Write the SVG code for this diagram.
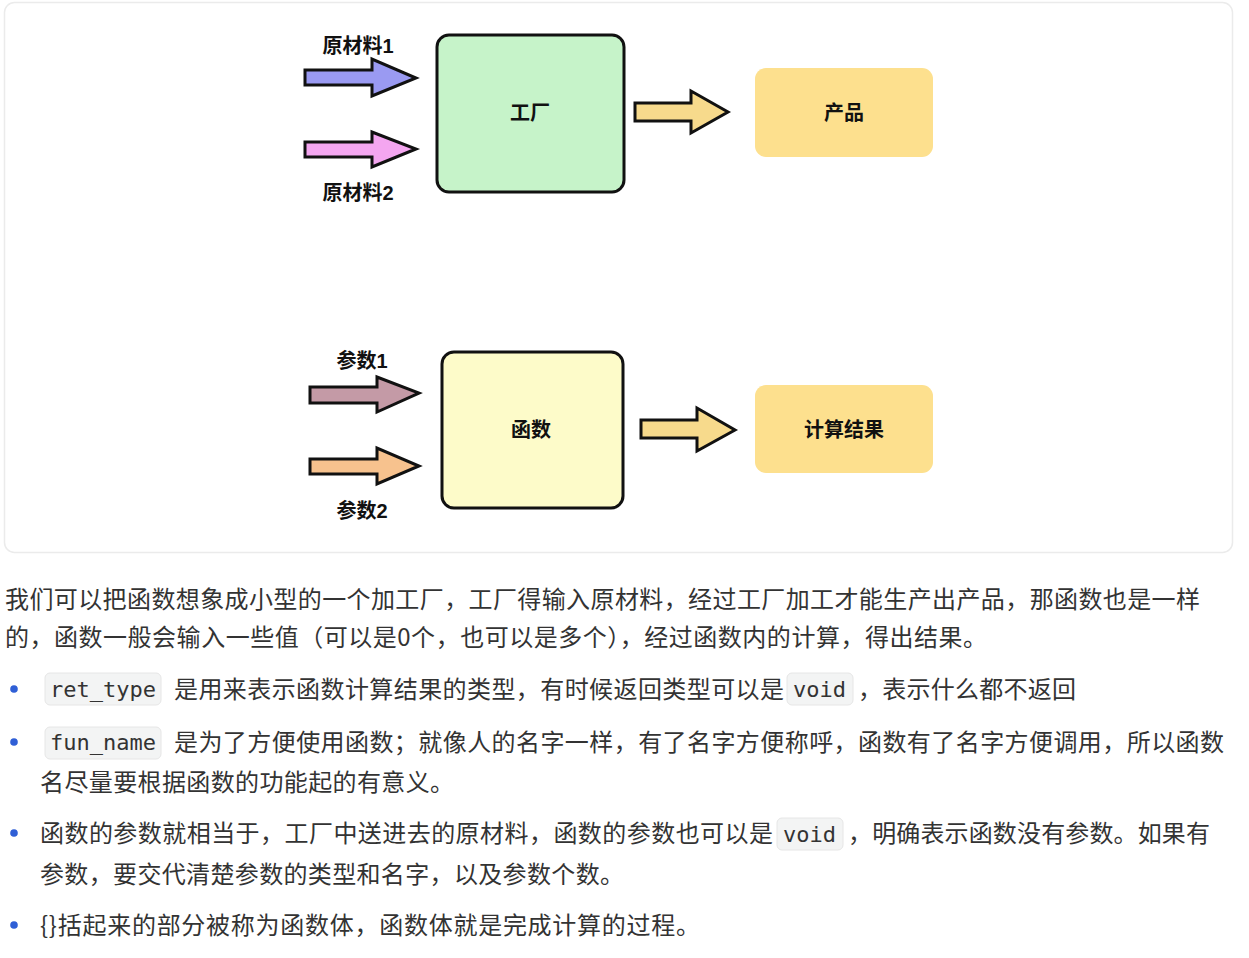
<svg xmlns="http://www.w3.org/2000/svg" width="1249" height="958" viewBox="0 0 1249 958">
<style>
.lbl{font-family:"Liberation Sans","Noto Sans CJK SC",sans-serif;font-weight:bold;font-size:20px;fill:#111;text-anchor:middle;dominant-baseline:central}
.arr{stroke:#111;stroke-width:3;stroke-linejoin:miter}
.box{stroke:#111;stroke-width:3}
.p{font-family:"Noto Sans CJK SC","Noto Sans",sans-serif;font-size:24px;fill:#333}
.code{font-family:"DejaVu Sans Mono","Liberation Mono",monospace;font-size:22px;fill:#333}
.cbg{fill:#f3f4f4;stroke:#e6e6e6;stroke-width:1}
.dot{fill:#2f5fd6}
</style>
<rect x="4.5" y="2.5" width="1228" height="550" rx="10" fill="#fff" stroke="#ebebeb" stroke-width="1.5"/>

<g id="connectors">
<polygon class="arr" fill="#9a9af2" points="305,70 372,70 372,59 416,78 372,96 372,85 305,85"/>
<polygon class="arr" fill="#f4a6f0" points="305,142 372,142 372,132 416,149 372,167 372,157 305,157"/>
<polygon class="arr" fill="#f7da8c" points="635,103 691,103 691,91 728,112 691,133 691,121 635,121"/>
<polygon class="arr" fill="#c49aa6" points="310,387 377,387 377,377 419,393 377,412 377,403 310,403"/>
<polygon class="arr" fill="#f7c28e" points="310,459 377,459 377,448 419,466 377,484 377,474 310,474"/>
<polygon class="arr" fill="#f7da8c" points="641,420 697,420 697,408 735,430 697,451 697,438 641,438"/>
</g>

<g id="label-yuancailiao1"><text class="lbl" x="358" y="46">原材料1</text></g>
<g id="label-yuancailiao2"><text class="lbl" x="358" y="193">原材料2</text></g>
<g id="node-factory">
<rect class="box" x="437" y="35" width="187" height="157" rx="12" fill="#c6f3c9"/>
<text class="lbl" x="530" y="113">工厂</text>
</g>
<g id="node-product">
<rect x="755" y="68" width="178" height="89" rx="11" fill="#fde08e"/>
<text class="lbl" x="844" y="113">产品</text>
</g>

<g id="label-canshu1"><text class="lbl" x="362" y="361">参数1</text></g>
<g id="label-canshu2"><text class="lbl" x="362" y="511">参数2</text></g>
<g id="node-function">
<rect class="box" x="442" y="352" width="181" height="156" rx="12" fill="#fdfbc9"/>
<text class="lbl" x="531" y="430">函数</text>
</g>
<g id="node-result">
<rect x="755" y="385" width="178" height="88" rx="11" fill="#fde08e"/>
<text class="lbl" x="844" y="430">计算结果</text>
</g>

<g id="text">
<text class="p" x="5" y="608" textLength="1195" lengthAdjust="spacing">我们可以把函数想象成小型的一个加工厂，工厂得输入原材料，经过工厂加工才能生产出产品，那函数也是一样</text>
<text class="p" x="5" y="646" textLength="982" lengthAdjust="spacing">的，函数一般会输入一些值（可以是0个，也可以是多个），经过函数内的计算，得出结果。</text>

<circle class="dot" cx="14" cy="689" r="3.8"/>
<rect class="cbg" x="45" y="673" width="116" height="32" rx="5"/>
<text class="code" x="50" y="697">ret_type</text>
<text class="p" x="174" y="698" textLength="610" lengthAdjust="spacing">是用来表示函数计算结果的类型，有时候返回类型可以是</text>
<rect class="cbg" x="787" y="673" width="66" height="32" rx="5"/>
<text class="code" x="793" y="697">void</text>
<text class="p" x="858" y="698" textLength="218" lengthAdjust="spacing">，表示什么都不返回</text>

<circle class="dot" cx="14" cy="742" r="3.8"/>
<rect class="cbg" x="45" y="727" width="116" height="32" rx="5"/>
<text class="code" x="50" y="750">fun_name</text>
<text class="p" x="174" y="751" textLength="1050" lengthAdjust="spacing">是为了方便使用函数；就像人的名字一样，有了名字方便称呼，函数有了名字方便调用，所以函数</text>
<text class="p" x="40" y="791" textLength="414" lengthAdjust="spacing">名尽量要根据函数的功能起的有意义。</text>

<circle class="dot" cx="14" cy="833" r="3.8"/>
<text class="p" x="40" y="842" textLength="733" lengthAdjust="spacing">函数的参数就相当于，工厂中送进去的原材料，函数的参数也可以是</text>
<rect class="cbg" x="777" y="818" width="66" height="32" rx="5"/>
<text class="code" x="783" y="842">void</text>
<text class="p" x="848" y="842" textLength="362" lengthAdjust="spacing">，明确表示函数没有参数。如果有</text>
<text class="p" x="40" y="883" textLength="584" lengthAdjust="spacing">参数，要交代清楚参数的类型和名字，以及参数个数。</text>

<circle class="dot" cx="14" cy="925" r="3.8"/>
<text class="p" x="40" y="934" textLength="660" lengthAdjust="spacing">{}括起来的部分被称为函数体，函数体就是完成计算的过程。</text>
</g>
</svg>
